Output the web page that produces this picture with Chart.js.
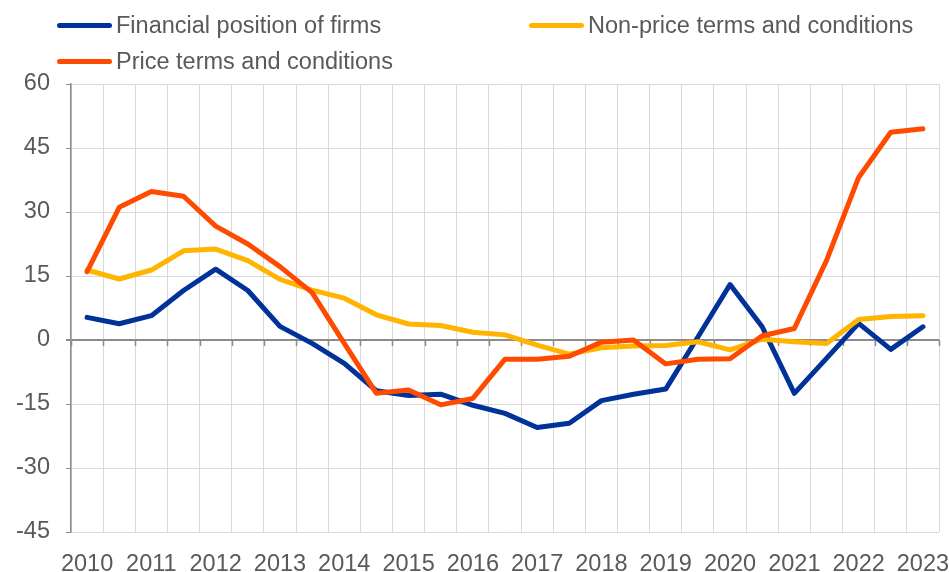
<!DOCTYPE html>
<html>
<head>
<meta charset="utf-8">
<script src="https://cdn.jsdelivr.net/npm/chart.js@4"></script>
<style>
  html, body { margin: 0; padding: 0; background: #fff; }
  #wrap { position: relative; width: 949px; height: 572px; }
  canvas { position: absolute; left: 0; top: 0; }
  .lg { position: absolute; font-family: "Liberation Sans", Arial, sans-serif; font-size: 23.5px; color: #595959; white-space: nowrap; line-height: 28px; }
  .sw { position: absolute; width: 55px; height: 5px; border-radius: 3px; }
</style>
</head>
<body>
<div id="wrap">
  <canvas id="c" width="949" height="572"></canvas>
  <div id="legend"></div>
</div>
<script>
// ---- data ----
const categories = [
  '2010 H1','2010 H2','2011 H1','2011 H2','2012 H1','2012 H2','2013 H1','2013 H2',
  '2014 H1','2014 H2','2015 H1','2015 H2','2016 H1','2016 H2','2017 H1','2017 H2',
  '2018 H1','2018 H2','2019 H1','2019 H2','2020 H1','2020 H2','2021 H1','2021 H2',
  '2022 H1','2022 H2','2023 H1'
];
const tickLabels = ['2010','','2011','','2012','','2013','','2014','','2015','','2016','',
  '2017','','2018','','2019','','2020','','2021','','2022','','2023'];
const seriesNames = ['Financial position of firms', 'Non-price terms and conditions', 'Price terms and conditions'];
const financialPosition = [5.3, 3.8, 5.7, 11.6, 16.6, 11.6, 3.2, -0.8, -5.5, -11.9, -13.0, -12.7, -15.3,
  -17.2, -20.5, -19.5, -14.2, -12.7, -11.5, 0.7, 13.0, 3.1, -12.5, -4.3, 3.9, -2.2, 3.1];
const nonPriceTerms = [16.4, 14.3, 16.4, 20.9, 21.3, 18.6, 14.2, 11.7, 9.8, 5.9, 3.75, 3.4, 1.8,
  1.2, -1.2, -3.3, -1.8, -1.4, -1.3, -0.4, -2.3, 0.2, -0.4, -0.8, 4.8, 5.5, 5.7];
const priceTerms = [16.0, 31.1, 34.8, 33.7, 26.7, 22.5, 17.2, 11.1, -0.8, -12.5, -11.7, -15.2, -13.7,
  -4.5, -4.5, -3.8, -0.5, 0.0, -5.6, -4.5, -4.4, 1.0, 2.7, 18.6, 38.1, 48.7, 49.5];
const yMin = -45, yMax = 60, yStep = 15;
const colors = ['#003299', '#FFB400', '#FF4B00'];

// ---- HTML legend ----
const legendPos = [
  { sw: 57, tx: 116, y: 25 },
  { sw: 529, tx: 588, y: 25 },
  { sw: 57, tx: 116, y: 61 }
];
const legendEl = document.getElementById('legend');
seriesNames.forEach((name, i) => {
  const p = legendPos[i];
  const s = document.createElement('div');
  s.className = 'sw';
  s.style.left = p.sw + 'px';
  s.style.top = (p.y - 2.5) + 'px';
  s.style.background = colors[i];
  legendEl.appendChild(s);
  const t = document.createElement('div');
  t.className = 'lg';
  t.style.left = p.tx + 'px';
  t.style.top = (p.y - 14) + 'px';
  t.textContent = name;
  legendEl.appendChild(t);
});

// ---- plugin: tick marks on the zero line ----
const zeroTicks = {
  id: 'zeroTicks',
  beforeDatasetsDraw(chart) {
    const xs = chart.scales.x, ys = chart.scales.y;
    const ctx = chart.ctx;
    const y0 = ys.getPixelForValue(0);
    const half = (xs.getPixelForValue(1) - xs.getPixelForValue(0)) / 2;
    ctx.save();
    ctx.strokeStyle = '#8c8c8c';
    ctx.lineWidth = 1.5;
    ctx.beginPath();
    for (let i = 0; i <= categories.length; i++) {
      const x = Math.round(xs.getPixelForValue(i) - half) + 0.5;
      ctx.moveTo(x, y0);
      ctx.lineTo(x, y0 + 6);
    }
    ctx.stroke();
    ctx.restore();
  }
};

const font = { family: '"Liberation Sans", Arial, sans-serif', size: 23.5 };
const mk = (label, data, color) => ({
  label, data, borderColor: color, backgroundColor: color, borderWidth: 5,
  pointRadius: 0, tension: 0, borderCapStyle: 'round', borderJoinStyle: 'round', fill: false
});

new Chart(document.getElementById('c'), {
  type: 'line',
  data: {
    labels: categories,
    datasets: [
      mk(seriesNames[2], priceTerms, colors[2]),
      mk(seriesNames[1], nonPriceTerms, colors[1]),
      mk(seriesNames[0], financialPosition, colors[0])
    ]
  },
  options: {
    responsive: false,
    animation: false,
    layout: { padding: { top: 84, right: 10, left: 0, bottom: 0 } },
    plugins: { legend: { display: false }, tooltip: { enabled: false } },
    scales: {
      x: {
        type: 'category',
        offset: true,
        grid: { offset: true, color: '#d9d9d9', lineWidth: 1, drawTicks: false },
        border: { display: false },
        ticks: {
          autoSkip: false, maxRotation: 0, minRotation: 0, padding: 18,
          color: '#595959', font,
          callback: (v, i) => tickLabels[i]
        },
        afterFit(s) { s.height = 40; s.paddingRight = 0; s.paddingLeft = 0; }
      },
      y: {
        min: yMin, max: yMax,
        ticks: { stepSize: yStep, color: '#595959', font, padding: 16 },
        grid: {
          color: c => (c.tick && c.tick.value === 0) ? '#8c8c8c' : '#d9d9d9',
          lineWidth: c => (c.tick && c.tick.value === 0) ? 2 : 1,
          drawTicks: true, tickLength: 5, tickColor: '#8c8c8c'
        },
        border: { display: true, color: '#8c8c8c', width: 1.5 },
        afterFit(s) { s.width = 71; s.paddingTop = 0; s.paddingBottom = 0; }
      }
    }
  },
  plugins: [zeroTicks]
});
</script>
</body>
</html>
